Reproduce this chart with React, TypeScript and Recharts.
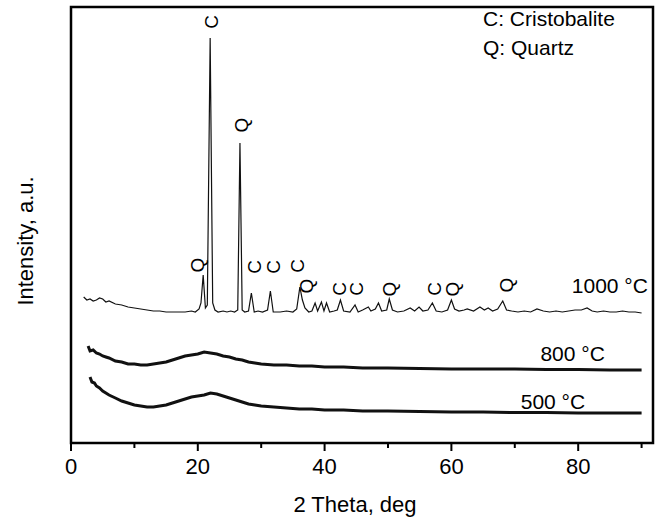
import { ComposedChart, Line, Scatter, XAxis, YAxis, ReferenceArea, Label } from "recharts";

// 2 theta (deg) and intensity (a.u.), curves already offset
const x1000 = [2, 2.5, 3, 3.5, 4, 4.5, 5, 5.5, 6, 7, 8, 9, 10, 11, 12, 13, 14, 15, 16, 17, 18, 19, 19.6, 20.2, 20.5, 20.85, 21.2, 21.5, 21.95, 22.35, 22.7, 23.2, 24, 24.6, 25.2, 25.8, 26.3, 26.65, 27, 27.4, 28, 28.45, 28.9, 29.5, 30.2, 31, 31.45, 31.9, 33, 34, 35, 35.6, 36.1, 36.5, 36.9, 37.5, 38, 38.5, 38.9, 39.5, 39.9, 40.3, 40.8, 41.5, 42, 42.5, 43, 44, 44.8, 45.3, 46, 46.9, 47.3, 48, 48.5, 49, 49.8, 50.2, 50.7, 51.5, 52.5, 53.5, 54.2, 54.9, 55.5, 56.3, 57, 57.6, 58.5, 59.4, 60, 60.5, 61.2, 62, 62.5, 63.5, 64.5, 65.2, 65.8, 66.5, 67.3, 68.1, 68.7, 69.5, 70.5, 71.5, 72.5, 73.5, 74.5, 75.5, 76.5, 77.5, 78.5, 79.5, 80.5, 81.4, 82.2, 83, 84, 85, 86, 87, 88, 89, 90];
const y1000 = [146, 143, 144, 142, 143, 145, 144, 141, 142, 139, 138, 136, 135, 134, 133, 132, 132, 131, 131, 131, 131, 132, 131, 134, 140, 168, 135, 138, 405, 140, 133, 131, 132, 131, 132, 131, 133, 300, 133, 131, 132, 150, 131, 132, 131, 133, 152, 131, 131, 132, 131, 134, 156, 143, 135, 131, 132, 140, 132, 141, 132, 140, 131, 132, 133, 143, 132, 131, 138, 131, 133, 136, 132, 134, 140, 132, 133, 144, 133, 131, 132, 135, 132, 136, 132, 133, 140, 132, 131, 133, 143, 134, 132, 133, 134, 132, 136, 133, 135, 132, 134, 142, 133, 132, 131, 132, 131, 134, 132, 131, 132, 131, 132, 133, 133, 135, 132, 131, 132, 131, 131, 132, 131, 131, 130];

const x800 = [2.7, 3, 3.5, 4, 4.5, 5, 5.5, 6, 7, 8, 9, 10, 11, 12, 13, 14, 15, 16, 17, 18, 19, 20, 21, 22, 23, 24, 25, 26, 27, 28, 29, 30, 32, 34, 36, 38, 40, 43, 46, 50, 55, 60, 65, 70, 75, 80, 85, 90];
const y800 = [97, 92, 93, 90, 89, 87, 86, 85, 82, 81, 79, 79, 78, 78, 79, 80, 81, 83, 85, 87, 88, 89, 91, 90, 89, 87, 86, 84, 83, 81, 80, 79, 78, 78, 77, 77, 76, 76, 75, 75, 74.5, 74, 74, 74, 73.5, 73.5, 73, 73];

const x500 = [3, 3.3, 3.7, 4, 4.5, 5, 5.5, 6, 7, 8, 9, 10, 11, 12, 13, 14, 15, 16, 17, 18, 19, 20, 21, 22, 23, 24, 25, 26, 27, 28, 29, 30, 32, 34, 36, 38, 40, 43, 46, 50, 55, 60, 65, 70, 75, 80, 85, 90];
const y500 = [66, 61, 60, 57, 55, 52, 50, 48, 45, 42, 40, 38, 37, 36, 36, 37, 38, 40, 42, 44, 46, 47, 48, 50, 49, 47, 45, 43, 41, 39, 38, 37, 36, 35, 34, 34, 33, 33, 32, 32, 31.5, 31, 31, 30.5, 30.5, 30, 30, 30];

// phase marks above the 1000 °C peaks
const markX = [20.0, 22.2, 26.9, 28.9, 32.0, 35.8, 37.2, 42.4, 45.1, 50.3, 57.3, 60.2, 68.7];
const markY = [178, 421, 318, 176, 176, 177, 157, 154, 154, 154, 154, 154, 158];
const markPhase = ["Q", "C", "Q", "C", "C", "C", "Q", "C", "C", "Q", "C", "Q", "Q"];

const curveNames = ["1000 °C", "800 °C", "500 °C"];
const curveNameX = [91, 84.2, 81.1];
const curveNameY = [150, 82, 34];

const xTicks = [0, 10, 20, 30, 40, 50, 60, 70, 80, 90];

const zip = (xs: number[], ys: number[]) => xs.map((x, i) => ({ x, v: ys[i] }));
const d1000 = zip(x1000, y1000);
const d800 = zip(x800, y800);
const d500 = zip(x500, y500);
const marks = markX.map((x, i) => ({ x, v: markY[i], t: markPhase[i] }));
const names = curveNames.map((t, i) => ({ x: curveNameX[i], v: curveNameY[i], t }));

const FONT = "'Liberation Sans', Arial, sans-serif";

const XTick = (props: any) => {
  const { x, y, payload } = props;
  const major = payload.value % 20 === 0;
  return (
    <g>
      <line x1={x} x2={x} y1={y} y2={y + (major ? 8 : 5)} stroke="#000" strokeWidth={2} />
      {major && (
        <text x={x} y={y + 31} textAnchor="middle" fontSize={22} fontFamily={FONT} fill="#000">
          {payload.value}
        </text>
      )}
    </g>
  );
};

// the phase letters are printed turned a quarter turn to the left
const PhaseMark = (props: any) => {
  const { cx, cy, payload } = props;
  return (
    <g transform={`translate(${cx},${cy}) rotate(-90)`}>
      <text x={0} y={0} textAnchor="middle" dominantBaseline="central" fontSize={19} fontFamily={FONT} fill="#000">
        {payload.t}
      </text>
    </g>
  );
};

const CurveName = (props: any) => {
  const { cx, cy, payload } = props;
  return (
    <text x={cx} y={cy} textAnchor="end" fontSize={21} fontFamily={FONT} fill="#000">
      {payload.t}
    </text>
  );
};

export default function App() {
  return (
    <div style={{ position: "absolute", left: 0, top: 0, width: 665, height: 519, background: "#fff" }}>
      <ComposedChart width={665} height={519} margin={{ top: 7, right: 12, bottom: 0, left: 0 }}>
        <XAxis
          type="number"
          dataKey="x"
          domain={[0, 91.8]}
          ticks={xTicks}
          tick={<XTick />}
          tickLine={false}
          tickSize={0}
          tickMargin={0}
          height={76}
          axisLine={{ stroke: "#000", strokeWidth: 2 }}
          allowDataOverflow
        >
          <Label
            content={() => (
              <text x={355} y={512} textAnchor="middle" fontSize={22} fontFamily={FONT} fill="#000">
                2 Theta, deg
              </text>
            )}
          />
        </XAxis>
        <YAxis type="number" dataKey="v" domain={[0, 436]} width={71} tick={false} tickLine={false} axisLine={{ stroke: "#000", strokeWidth: 2 }} allowDataOverflow>
          <Label
            content={() => (
              <text transform="translate(33,241) rotate(-90)" textAnchor="middle" fontSize={22} fontFamily={FONT} fill="#000">
                Intensity, a.u.
              </text>
            )}
          />
        </YAxis>
        <ReferenceArea x1={0} x2={91.8} y1={0} y2={436} fill="none" stroke="#000" strokeWidth={2.5} ifOverflow="visible" />
        <Line data={d500} dataKey="v" stroke="#111" strokeWidth={3} dot={false} type="linear" isAnimationActive={false} />
        <Line data={d800} dataKey="v" stroke="#111" strokeWidth={3} dot={false} type="linear" isAnimationActive={false} />
        <Line data={d1000} dataKey="v" stroke="#111" strokeWidth={1.2} dot={false} type="linear" isAnimationActive={false} />
        <Scatter data={marks} dataKey="v" shape={<PhaseMark />} isAnimationActive={false} />
        <Scatter data={names} dataKey="v" shape={<CurveName />} isAnimationActive={false} />
      </ComposedChart>
      <svg width={665} height={80} style={{ position: "absolute", left: 0, top: 0, pointerEvents: "none" }}>
        <text x={483} y={26} fontSize={21} fontFamily={FONT} fill="#000">C: Cristobalite</text>
        <text x={483} y={55} fontSize={21} fontFamily={FONT} fill="#000">Q: Quartz</text>
      </svg>
    </div>
  );
}
